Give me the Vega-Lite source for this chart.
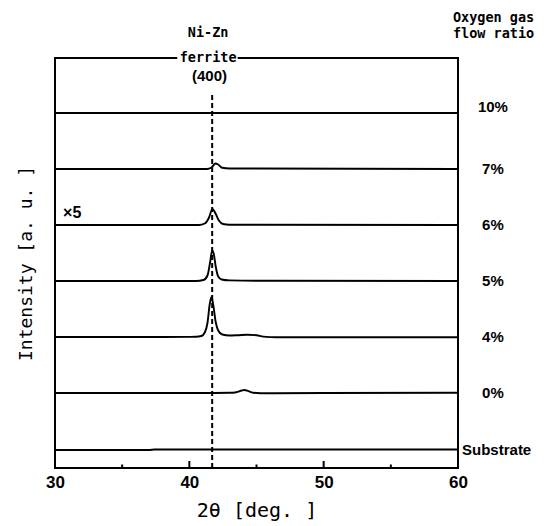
{
  "$schema": "https://vega.github.io/schema/vega-lite/v6.json",
  "width": 403,
  "height": 410,
  "autosize": {"type": "none"},
  "padding": {"left": 55, "top": 58, "right": 86, "bottom": 58},
  "background": "white",
  "config": {
    "font": "Liberation Sans",
    "view": {"stroke": "black", "strokeWidth": 2}
  },
  "datasets": {
    "traces": [
      {"series": "Substrate", "x": 30, "y": 1.8},
      {"series": "Substrate", "x": 37.0, "y": 1.8},
      {"series": "Substrate", "x": 37.4, "y": 1.85},
      {"series": "Substrate", "x": 45, "y": 1.85},
      {"series": "Substrate", "x": 60, "y": 1.85},

      {"series": "0%", "x": 30, "y": 7.5},
      {"series": "0%", "x": 40, "y": 7.5},
      {"series": "0%", "x": 43.0, "y": 7.52},
      {"series": "0%", "x": 43.5, "y": 7.58},
      {"series": "0%", "x": 43.9, "y": 7.75},
      {"series": "0%", "x": 44.1, "y": 7.8},
      {"series": "0%", "x": 44.4, "y": 7.68},
      {"series": "0%", "x": 44.8, "y": 7.52},
      {"series": "0%", "x": 45.3, "y": 7.47},
      {"series": "0%", "x": 50, "y": 7.5},
      {"series": "0%", "x": 60, "y": 7.52},

      {"series": "4%", "x": 30, "y": 13.1},
      {"series": "4%", "x": 38, "y": 13.1},
      {"series": "4%", "x": 40.5, "y": 13.12},
      {"series": "4%", "x": 40.9, "y": 13.2},
      {"series": "4%", "x": 41.15, "y": 13.55},
      {"series": "4%", "x": 41.35, "y": 14.5},
      {"series": "4%", "x": 41.52, "y": 16.4},
      {"series": "4%", "x": 41.65, "y": 17.1},
      {"series": "4%", "x": 41.77, "y": 16.4},
      {"series": "4%", "x": 41.95, "y": 14.7},
      {"series": "4%", "x": 42.15, "y": 13.75},
      {"series": "4%", "x": 42.45, "y": 13.35},
      {"series": "4%", "x": 43.0, "y": 13.25},
      {"series": "4%", "x": 43.6, "y": 13.28},
      {"series": "4%", "x": 44.3, "y": 13.33},
      {"series": "4%", "x": 45.0, "y": 13.28},
      {"series": "4%", "x": 45.5, "y": 13.14},
      {"series": "4%", "x": 46.5, "y": 13.08},
      {"series": "4%", "x": 60, "y": 13.07},

      {"series": "5%", "x": 30, "y": 18.7},
      {"series": "5%", "x": 40.5, "y": 18.7},
      {"series": "5%", "x": 41.05, "y": 18.8},
      {"series": "5%", "x": 41.35, "y": 19.25},
      {"series": "5%", "x": 41.55, "y": 20.6},
      {"series": "5%", "x": 41.7, "y": 21.75},
      {"series": "5%", "x": 41.82, "y": 21.4},
      {"series": "5%", "x": 41.97, "y": 20.1},
      {"series": "5%", "x": 42.15, "y": 19.15},
      {"series": "5%", "x": 42.4, "y": 18.85},
      {"series": "5%", "x": 43.0, "y": 18.76},
      {"series": "5%", "x": 46, "y": 18.72},
      {"series": "5%", "x": 60, "y": 18.7},

      {"series": "6%", "x": 30, "y": 24.3},
      {"series": "6%", "x": 40.7, "y": 24.3},
      {"series": "6%", "x": 41.15, "y": 24.45},
      {"series": "6%", "x": 41.45, "y": 25.0},
      {"series": "6%", "x": 41.72, "y": 25.9},
      {"series": "6%", "x": 41.95, "y": 25.45},
      {"series": "6%", "x": 42.2, "y": 24.75},
      {"series": "6%", "x": 42.5, "y": 24.4},
      {"series": "6%", "x": 43.0, "y": 24.32},
      {"series": "6%", "x": 60, "y": 24.3},

      {"series": "7%", "x": 30, "y": 29.9},
      {"series": "7%", "x": 41.3, "y": 29.9},
      {"series": "7%", "x": 41.65, "y": 30.05},
      {"series": "7%", "x": 41.95, "y": 30.45},
      {"series": "7%", "x": 42.15, "y": 30.35},
      {"series": "7%", "x": 42.45, "y": 30.02},
      {"series": "7%", "x": 43.0, "y": 29.95},
      {"series": "7%", "x": 60, "y": 29.9},

      {"series": "10%", "x": 30, "y": 35.5},
      {"series": "10%", "x": 45, "y": 35.5},
      {"series": "10%", "x": 60, "y": 35.5}
    ],
    "rightLabels": [
      {"label": "10%", "x": 62.6, "y": 36.1},
      {"label": "7%", "x": 62.6, "y": 29.9},
      {"label": "6%", "x": 62.6, "y": 24.3},
      {"label": "5%", "x": 62.6, "y": 18.7},
      {"label": "4%", "x": 62.6, "y": 13.1},
      {"label": "0%", "x": 62.6, "y": 7.5}
    ],
    "substrateLabel": [
      {"label": "Substrate", "x": 60.3, "y": 1.8}
    ],
    "monoNotes": [
      {"label": "Ni-Zn", "x": 41.4, "y": 43.5},
      {"label": "ferrite", "x": 41.4, "y": 41.05},
      {"label": "Oxygen gas", "x": 62.65, "y": 45.0},
      {"label": "flow ratio", "x": 62.65, "y": 43.4}
    ],
    "sansNotes": [
      {"label": "(400)", "x": 41.5, "y": 39.2}
    ],
    "scaleNote": [
      {"label": "×5", "x": 30.6, "y": 25.5}
    ],
    "peak": [
      {"x": 41.7, "y": 0, "yTop": 37.6}
    ],
    "majorTicks": [{"x": 40, "y": 0, "yTop": 0.7}, {"x": 50, "y": 0, "yTop": 0.7}],
    "minorTicks": [{"x": 35, "y": 0, "yTop": 0.35}, {"x": 45, "y": 0, "yTop": 0.35}, {"x": 55, "y": 0, "yTop": 0.35}],
    "gap": [{"x": 39.1, "xEnd": 43.6, "y": 40.5, "yTop": 41.6}]
  },
  "layer": [
    {
      "data": {"name": "traces"},
      "mark": {"type": "line", "color": "black", "strokeWidth": 1.9, "interpolate": "monotone"},
      "encoding": {
        "x": {
          "field": "x",
          "type": "quantitative",
          "scale": {"domain": [30, 60], "nice": false, "zero": false},
          "axis": {
            "values": [30, 40, 50, 60],
            "ticks": false,
            "domain": false,
            "grid": false,
            "labelFlush": false,
            "labelPadding": 6,
            "labelFontSize": 17,
            "labelFontWeight": "bold",
            "labelColor": "black",
            "title": "2θ  [deg. ]",
            "titleFont": "DejaVu Sans Mono",
            "titleFontSize": 20,
            "titleFontWeight": "normal",
            "titleColor": "black",
            "titlePadding": 10
          }
        },
        "y": {
          "field": "y",
          "type": "quantitative",
          "scale": {"domain": [0, 41], "nice": false, "zero": false},
          "axis": {
            "ticks": false,
            "labels": false,
            "domain": false,
            "grid": false,
            "title": "Intensity [a. u. ]",
            "titleFont": "DejaVu Sans Mono",
            "titleFontSize": 18,
            "titleFontWeight": "normal",
            "titleColor": "black",
            "titlePadding": 20
          }
        },
        "detail": {"field": "series", "type": "nominal"}
      }
    },
    {
      "data": {"name": "peak"},
      "mark": {"type": "rule", "color": "black", "strokeWidth": 2, "strokeDash": [5, 3]},
      "encoding": {
        "x": {"field": "x", "type": "quantitative"},
        "y": {"field": "y", "type": "quantitative"},
        "y2": {"field": "yTop"}
      }
    },
    {
      "data": {"name": "majorTicks"},
      "mark": {"type": "rule", "color": "black", "strokeWidth": 2},
      "encoding": {
        "x": {"field": "x", "type": "quantitative"},
        "y": {"field": "y", "type": "quantitative"},
        "y2": {"field": "yTop"}
      }
    },
    {
      "data": {"name": "minorTicks"},
      "mark": {"type": "rule", "color": "black", "strokeWidth": 2},
      "encoding": {
        "x": {"field": "x", "type": "quantitative"},
        "y": {"field": "y", "type": "quantitative"},
        "y2": {"field": "yTop"}
      }
    },
    {
      "data": {"name": "gap"},
      "mark": {"type": "rect", "color": "white", "opacity": 1},
      "encoding": {
        "x": {"field": "x", "type": "quantitative"},
        "x2": {"field": "xEnd"},
        "y": {"field": "y", "type": "quantitative"},
        "y2": {"field": "yTop"}
      }
    },
    {
      "data": {"name": "monoNotes"},
      "mark": {"type": "text", "font": "DejaVu Sans Mono", "fontSize": 13.5, "fontWeight": "bold", "color": "black", "align": "center", "baseline": "middle"},
      "encoding": {
        "x": {"field": "x", "type": "quantitative"},
        "y": {"field": "y", "type": "quantitative"},
        "text": {"field": "label"}
      }
    },
    {
      "data": {"name": "sansNotes"},
      "mark": {"type": "text", "fontSize": 15, "fontWeight": "bold", "color": "black", "align": "center", "baseline": "middle"},
      "encoding": {
        "x": {"field": "x", "type": "quantitative"},
        "y": {"field": "y", "type": "quantitative"},
        "text": {"field": "label"}
      }
    },
    {
      "data": {"name": "scaleNote"},
      "mark": {"type": "text", "fontSize": 16, "fontWeight": "bold", "color": "black", "align": "left", "baseline": "middle"},
      "encoding": {
        "x": {"field": "x", "type": "quantitative"},
        "y": {"field": "y", "type": "quantitative"},
        "text": {"field": "label"}
      }
    },
    {
      "data": {"name": "rightLabels"},
      "mark": {"type": "text", "fontSize": 15, "fontWeight": "bold", "color": "black", "align": "center", "baseline": "middle"},
      "encoding": {
        "x": {"field": "x", "type": "quantitative"},
        "y": {"field": "y", "type": "quantitative"},
        "text": {"field": "label"}
      }
    },
    {
      "data": {"name": "substrateLabel"},
      "mark": {"type": "text", "fontSize": 15, "fontWeight": "bold", "color": "black", "align": "left", "baseline": "middle"},
      "encoding": {
        "x": {"field": "x", "type": "quantitative"},
        "y": {"field": "y", "type": "quantitative"},
        "text": {"field": "label"}
      }
    }
  ]
}
